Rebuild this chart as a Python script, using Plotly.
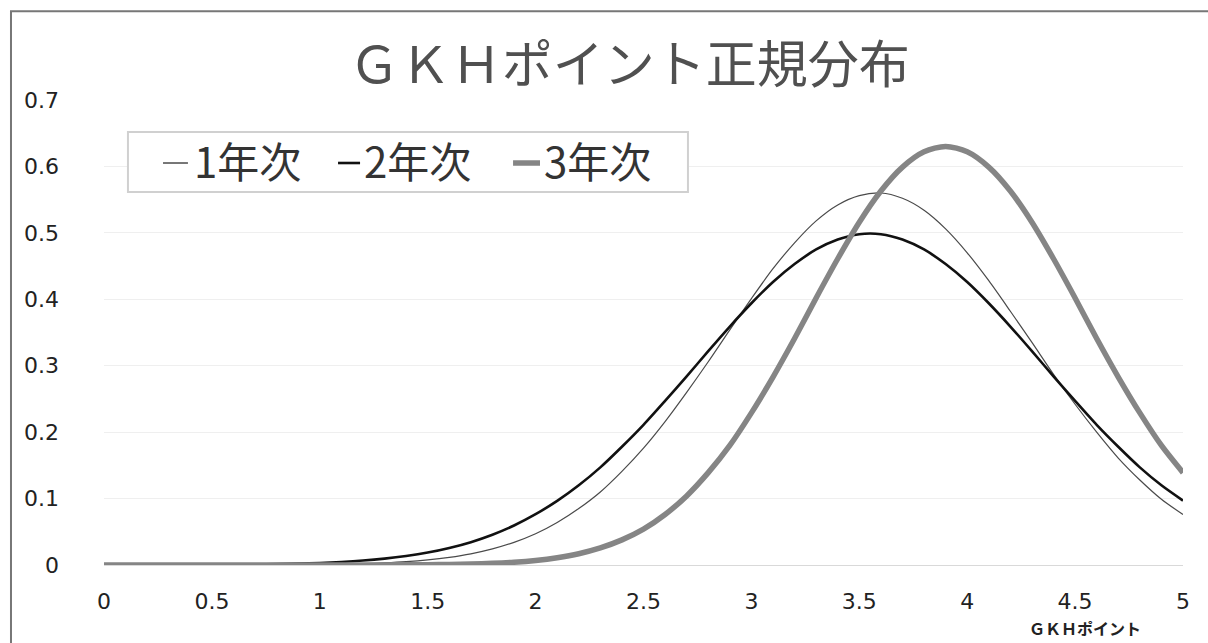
import plotly.graph_objects as go

# GKH point values on the horizontal axis (step 0.1)
x_points = [round(i * 0.1, 1) for i in range(51)]

# density per school year, one value per x point
year1 = [0.0, 0.0, 0.0, 0.0, 0.0, 0.0001, 0.0001, 0.0002, 0.0003, 0.0005,
         0.0008, 0.0013, 0.0020, 0.0032, 0.0050, 0.0077, 0.0115, 0.0168, 0.0242, 0.0341,
         0.047, 0.064, 0.085, 0.110, 0.141, 0.176, 0.216, 0.260, 0.306, 0.354,
         0.401, 0.446, 0.485, 0.518, 0.542, 0.556, 0.560, 0.552, 0.534, 0.506,
         0.470, 0.428, 0.382, 0.335, 0.287, 0.242, 0.200, 0.161, 0.128, 0.099,
         0.076]
year2 = [0.0, 0.0001, 0.0001, 0.0001, 0.0002, 0.0003, 0.0006, 0.0009, 0.0014, 0.0021,
         0.0031, 0.0046, 0.0067, 0.0096, 0.0135, 0.0187, 0.0256, 0.0344, 0.0456, 0.0595,
         0.0765, 0.0965, 0.120, 0.147, 0.178, 0.211, 0.247, 0.284, 0.322, 0.359,
         0.394, 0.426, 0.453, 0.475, 0.490, 0.498, 0.498, 0.490, 0.475, 0.453,
         0.426, 0.394, 0.359, 0.322, 0.284, 0.247, 0.211, 0.178, 0.147, 0.120,
         0.097]
year3 = [0.0, 0.0, 0.0, 0.0, 0.0, 0.0, 0.0, 0.0, 0.0, 0.0,
         0.0, 0.0, 0.0001, 0.0001, 0.0003, 0.0005, 0.0008, 0.0015, 0.0025, 0.0042,
         0.0069, 0.0110, 0.0170, 0.0257, 0.0378, 0.054, 0.076, 0.104, 0.139, 0.180,
         0.229, 0.283, 0.341, 0.402, 0.461, 0.516, 0.563, 0.599, 0.622, 0.630,
         0.622, 0.599, 0.563, 0.516, 0.461, 0.402, 0.341, 0.283, 0.229, 0.180,
         0.139]

series_names = ["1年次", "2年次", "3年次"]
y_ticks = [0, 0.1, 0.2, 0.3, 0.4, 0.5, 0.6, 0.7]
x_ticks = [0, 0.5, 1, 1.5, 2, 2.5, 3, 3.5, 4, 4.5, 5]

font_num = "DejaVu Sans, sans-serif"
font_jp = "Noto Sans CJK JP, sans-serif"

# line colour / width per series
styles = [("#4a4a4a", 1.2), ("#111111", 2.6), ("#858585", 5.5)]

fig = go.Figure()
for name, ys, (col, w) in zip(series_names, [year1, year2, year3], styles):
    fig.add_trace(go.Scatter(
        x=x_points, y=ys, name=name, mode="lines",
        line=dict(color=col, width=w, shape="spline", smoothing=0.8),
        showlegend=False,
    ))

fig.update_layout(
    width=1208, height=643,
    margin=dict(l=104, r=25, t=100, b=78),
    paper_bgcolor="white", plot_bgcolor="white",
    title=dict(text="ＧＫＨポイント正規分布", x=0.521, xanchor="center",
               y=0.899, yanchor="middle",
               font=dict(family=font_jp, size=51, color="#505050")),
    font=dict(family=font_num, size=23, color="#222222"),
)

fig.update_xaxes(
    range=[0, 5], tickvals=x_ticks, ticktext=[str(t) for t in x_ticks],
    showgrid=False, zeroline=False, showline=False,
    ticks="", ticklabelstandoff=21,
    tickfont=dict(family=font_num, size=22, color="#222222"),
)
fig.update_yaxes(
    range=[0, 0.7], tickvals=y_ticks, ticktext=[str(t) for t in y_ticks],
    showgrid=True, gridcolor="#efefef", gridwidth=1,
    zeroline=True, zerolinecolor="#d9d9d9", zerolinewidth=1,
    showline=False, ticks="", ticklabelstandoff=44,
    tickfont=dict(family=font_num, size=22, color="#222222"),
)

# axis caption under the right end
fig.add_annotation(
    x=4.546, xref="x", y=-0.1355, yref="paper",
    xanchor="center", yanchor="middle",
    text="<b>ＧＫＨポイント</b>", showarrow=False,
    font=dict(family=font_jp, size=16, color="#222222"),
)

# legend: framed box with a short key line before each series name
fig.add_shape(
    type="rect", xref="paper", yref="paper",
    x0=0.0222, x1=0.5412, y0=0.8022, y1=0.9312,
    line=dict(color="#d0d0d0", width=2), fillcolor="white",
)
key_x = [(0.0547, 0.0778), (0.2169, 0.2373), (0.3791, 0.4041)]
text_x = [0.0816, 0.2391, 0.4059]
for name, (kx0, kx1), tx, (col, w) in zip(series_names, key_x, text_x, styles):
    fig.add_shape(
        type="line", xref="paper", yref="paper",
        x0=kx0, x1=kx1, y0=0.8645, y1=0.8645,
        line=dict(color=col, width=max(w, 1.5)),
    )
    fig.add_annotation(
        x=tx, y=0.873, xref="paper", yref="paper",
        xanchor="left", yanchor="middle", showarrow=False,
        text=name, font=dict(family=font_jp, size=42, color="#333333"),
    )

# chart frame
fig.add_shape(
    type="rect", xref="paper", yref="paper",
    x0=-0.0862, x1=1.05, y0=-0.3, y1=1.191,
    line=dict(color="#777777", width=2), fillcolor="rgba(0,0,0,0)",
    layer="below",
)

fig.write_html("out.html")
